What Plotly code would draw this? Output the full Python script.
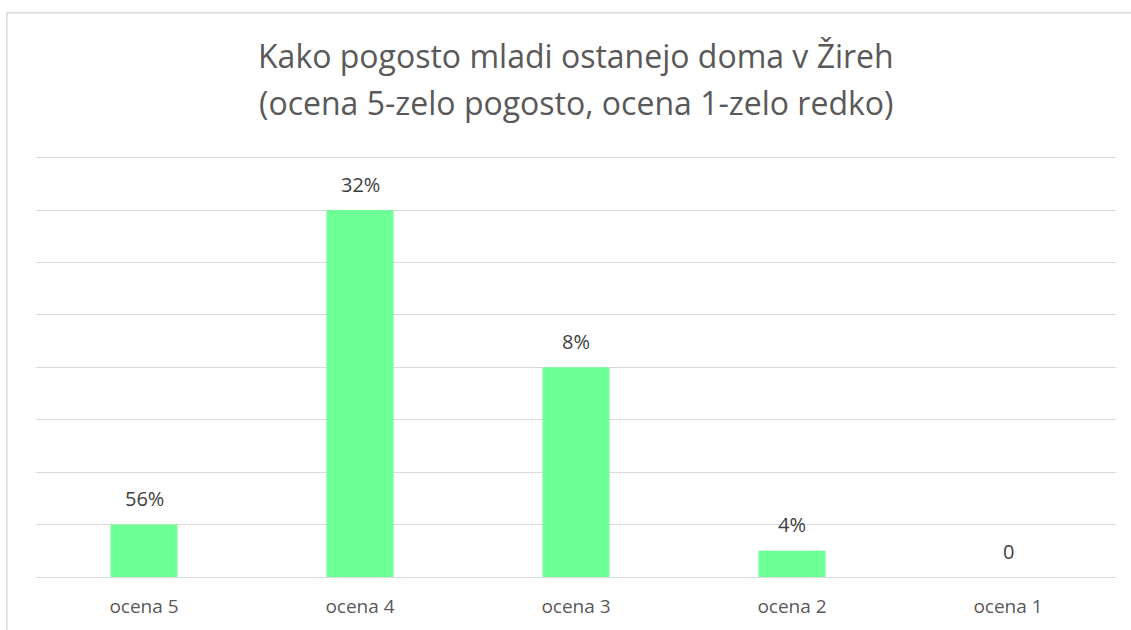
import plotly.graph_objects as go

kategorije = ['ocena 5', 'ocena 4', 'ocena 3', 'ocena 2', 'ocena 1']
visine = [1, 7, 4, 0.5, 0]
oznake = ['56%', '32%', '8%', '4%', '0']
naslov = ['Kako pogosto mladi ostanejo doma v Žireh',
          '(ocena 5-zelo pogosto, ocena 1-zelo redko)']

fig = go.Figure(go.Bar(x=kategorije,
                       y=visine,
                       marker=dict(color='#6bff96', line=dict(width=0)),
                       width=0.31,
                       hovertext=oznake))

# oznake podatkov nad stolpci
for k, v, t in zip(kategorije, visine, oznake):
    fig.add_annotation(x=k, y=v, text=t, showarrow=False, yanchor='middle', yshift=26,
                       font=dict(size=20, color='#404040'))

# naslov v dveh vrsticah
for y, t in zip([1.235, 1.125], naslov):
    fig.add_annotation(xref='paper', yref='paper', x=0.5, y=y, text=t, showarrow=False,
                       yanchor='middle', font=dict(size=32, color='#595959'))

fig.update_layout(
    width=1131, height=630,
    margin=dict(l=36, r=15, t=155, b=53),
    paper_bgcolor='white', plot_bgcolor='white',
    font=dict(family='Open Sans, Liberation Sans, sans-serif', color='#595959'),
    showlegend=False,
)
fig.update_xaxes(showgrid=False, showline=False, ticks='', tickfont=dict(size=19, color='#595959'),
                 ticklabelstandoff=16)
fig.update_yaxes(range=[0, 8.05], dtick=1, showgrid=True, gridcolor='#d9d9d9', gridwidth=1,
                 showticklabels=False, zeroline=True, zerolinecolor='#d9d9d9', zerolinewidth=1)

# okvir grafikona
fig.add_shape(type='rect', xref='paper', yref='paper',
              x0=-0.027, x1=1.05, y0=-0.3, y1=1.337,
              line=dict(color='#d9d9d9', width=1.5), layer='below')

fig.write_html("out.html", config={'displayModeBar': False},
               post_script="document.body.style.margin='0';")
